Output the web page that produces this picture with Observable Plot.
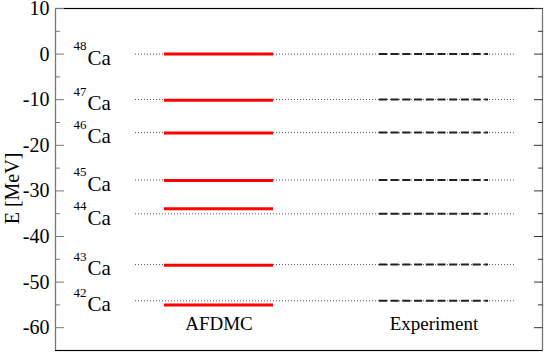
<!DOCTYPE html>
<html>
<head>
<meta charset="utf-8">
<script src="https://cdn.jsdelivr.net/npm/d3@7"></script>
<script src="https://cdn.jsdelivr.net/npm/@observablehq/plot@0.6"></script>
<style>
  html, body { margin: 0; padding: 0; background: #fff; }
</style>
</head>
<body>
<div id="chart"></div>
<script>
const massNumbers = ["48", "47", "46", "45", "44", "43", "42"];
const element = "Ca";
const afdmc = [0, -10.1, -17.3, -27.7, -33.9, -46.3, -55.0];
const experiment = [0, -9.95, -17.22, -27.61, -35.03, -46.16, -54.09];
const methods = ["AFDMC", "Experiment"];
const yDomain = [-65, 10];
const yMajorTicks = [10, 0, -10, -20, -30, -40, -50, -60];
const yMinorTicks = [5, -5, -15, -25, -35, -45, -55];
const yTitle = "E [MeV]";

const rows = massNumbers.map((m, i) => ({mass: m, afdmc: afdmc[i], exp: experiment[i]}));

const font = "Liberation Serif";

const chart = Plot.plot({
  width: 545,
  height: 352,
  marginTop: 8,
  marginBottom: 2,
  marginLeft: 55,
  marginRight: 3,
  style: {fontFamily: font, fontSize: "18px", color: "#000", background: "#fff"},
  x: {type: "band", domain: methods, range: [163, 488], paddingInner: 0.495, paddingOuter: 0, axis: null},
  y: {domain: yDomain, axis: null},
  marks: [
    Plot.ruleY(rows, {y: "exp", insetLeft: 80, insetRight: 27, stroke: "#555", strokeWidth: 1, strokeDasharray: "1,2"}),
    Plot.tickY(rows, {x: () => "AFDMC", y: "afdmc", stroke: "#ff0000", strokeWidth: 3}),
    Plot.tickY(rows, {x: () => "Experiment", y: "exp", stroke: "#222", strokeWidth: 2, strokeDasharray: "8,3.7"}),
    Plot.text(rows, {y: "exp", text: "mass", frameAnchor: "left", textAnchor: "end", dx: 31, dy: -8, fontSize: 13, fontFamily: font}),
    Plot.text(rows, {y: "exp", text: () => element, frameAnchor: "left", textAnchor: "start", dx: 32, dy: 4, fontSize: 21, fontFamily: font}),
    Plot.text(methods, {x: d => d, text: d => d, frameAnchor: "bottom", dy: -21, fontSize: 19, fontFamily: font}),
    Plot.frame({stroke: "#777", strokeWidth: 1.3}),
    Plot.ruleY(yDomain, {stroke: "#000", strokeWidth: 1.2}),
    Plot.axisY(yMajorTicks, {anchor: "left", tickSize: -9, tickPadding: 15, stroke: "#777", fontSize: 20, fontFamily: font, tickFormat: d => String(d), label: null}),
    Plot.axisY(yMinorTicks, {anchor: "left", tickSize: -5, text: null, stroke: "#777", label: null}),
    Plot.axisY(yMajorTicks, {anchor: "right", tickSize: -9, text: null, stroke: "#333", label: null}),
    Plot.axisY(yMinorTicks, {anchor: "right", tickSize: -5, text: null, stroke: "#333", label: null}),
    Plot.text([yTitle], {frameAnchor: "left", textAnchor: "middle", text: d => d, rotate: -90, dx: -43, dy: 9, fontSize: 20, fontFamily: font})
  ]
});

document.getElementById("chart").appendChild(chart);
</script>
</body>
</html>
